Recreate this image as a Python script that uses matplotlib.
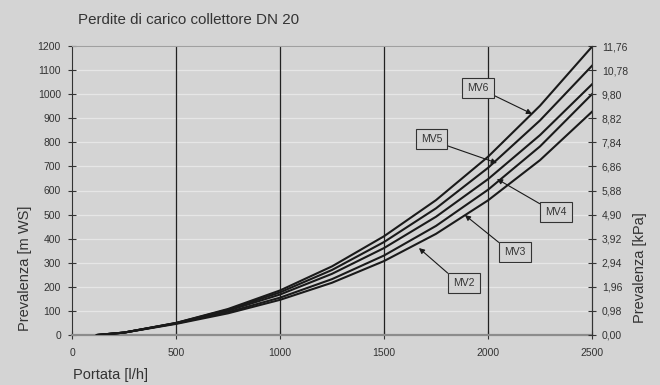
import matplotlib
matplotlib.use("Agg")
import matplotlib.pyplot as plt

plt.rcParams['font.family'] = ['Liberation Sans', 'DejaVu Sans']

# portata [l/h]
portata = [120, 250, 500, 750, 1000, 1250, 1500, 1750, 2000, 2250, 2500]

# prevalenza [m WS] per valvola
mv6 = [0, 10, 50, 108, 185, 285, 410, 560, 740, 952, 1197]
mv5 = [0, 10, 50, 105, 177, 270, 386, 526, 694, 891, 1118]
mv4 = [0, 10, 49, 101, 168, 254, 361, 491, 647, 830, 1041]
mv3 = [0, 10, 48, 95, 155, 232, 330, 453, 603, 783, 1000]
mv2 = [0, 10, 46, 90, 146, 217, 307, 420, 559, 726, 927]
serie = [mv6, mv5, mv4, mv3, mv2]

y_ticks = [0, 100, 200, 300, 400, 500, 600, 700, 800, 900, 1000, 1100, 1200]
kpa_labels = ["0,00", "0,98", "1,96", "2,94", "3,92", "4,90", "5,88",
              "6,86", "7,84", "8,82", "9,80", "10,78", "11,76"]
x_ticks = [0, 500, 1000, 1500, 2000, 2500]

# etichette: nome, posizione testo (portata, prevalenza), punta freccia, angolo di partenza
etichette = [
    ("MV6", (1952, 1026), (2212, 918), (1, 0)),
    ("MV5", (1728, 814), (2043, 714), (1, 0)),
    ("MV4", (2327, 511), (2043, 648), (0, 1)),
    ("MV3", (2130, 345), (1889, 498), (0, 1)),
    ("MV2", (1885, 216), (1668, 361), (0, 1)),
]

bg = '#d4d4d4'
txt = '#333333'

fig = plt.figure(figsize=(6.6, 3.85), dpi=100, facecolor=bg)
ax = fig.add_axes([72 / 660, 50 / 385, 520 / 660, 289 / 385])
ax.set_facecolor(bg)

# griglia
for y in y_ticks[1:]:
    ax.axhline(y, color='#e6e6e6', lw=0.9, zorder=1)
for x in x_ticks[1:-1]:
    ax.axvline(x, color='#222222', lw=0.9, zorder=2)

for s in serie:
    ax.plot(portata, s, color='#1a1a1a', lw=1.5, zorder=3)

ax.set_xlim(0, 2500)
ax.set_ylim(0, 1200)
ax.set_xticks(x_ticks)
ax.set_yticks(y_ticks)

ax.spines['top'].set_color('#a0a0a0')
ax.spines['bottom'].set_color('#8c8c8c')
ax.spines['bottom'].set_linewidth(1.6)
ax.spines['left'].set_color('#333333')
ax.spines['right'].set_color('#333333')

ax.tick_params(axis='y', direction='inout', length=6, width=0.8, colors='#333333',
               labelsize=7.5, labelcolor=txt, pad=5)
ax.tick_params(axis='x', direction='inout', length=6, width=0.8, colors='#333333',
               labelsize=7.5, labelcolor=txt, pad=6)

ax2 = ax.twinx()
ax2.set_ylim(0, 1200)
ax2.set_yticks(y_ticks)
ax2.set_yticklabels(kpa_labels)
ax2.tick_params(axis='y', direction='inout', length=6, width=0.8, colors='#333333',
                labelsize=7.5, labelcolor=txt, pad=4)
for sp in ['top', 'bottom', 'left']:
    ax2.spines[sp].set_visible(False)
ax2.spines['right'].set_color('#333333')

for nome, pos_testo, punta, rel in etichette:
    ax.annotate(nome, xy=punta, xytext=pos_testo, fontsize=7.5, color=txt,
                ha='center', va='center', zorder=5,
                bbox=dict(boxstyle='square,pad=0.5', fc=bg, ec='#333333', lw=0.8),
                arrowprops=dict(arrowstyle='-|>', color='#1a1a1a', lw=0.8,
                                mutation_scale=8, relpos=rel, shrinkA=0, shrinkB=0))

fig.text(78 / 660, (385 - 20) / 385, "Perdite di carico collettore DN 20",
         fontsize=10.9, color=txt, ha='left', va='center')
fig.text(25 / 660, (385 - 268) / 385, "Prevalenza [m WS]", fontsize=10.5,
         color=txt, rotation=90, ha='center', va='center')
fig.text(640 / 660, (385 - 268) / 385, "Prevalenza [kPa]", fontsize=10.5,
         color=txt, rotation=90, ha='center', va='center')
fig.text(73 / 660, (385 - 375) / 385, "Portata [l/h]", fontsize=10.5,
         color=txt, ha='left', va='center')

fig.savefig("out.png", dpi=100, facecolor=bg)
